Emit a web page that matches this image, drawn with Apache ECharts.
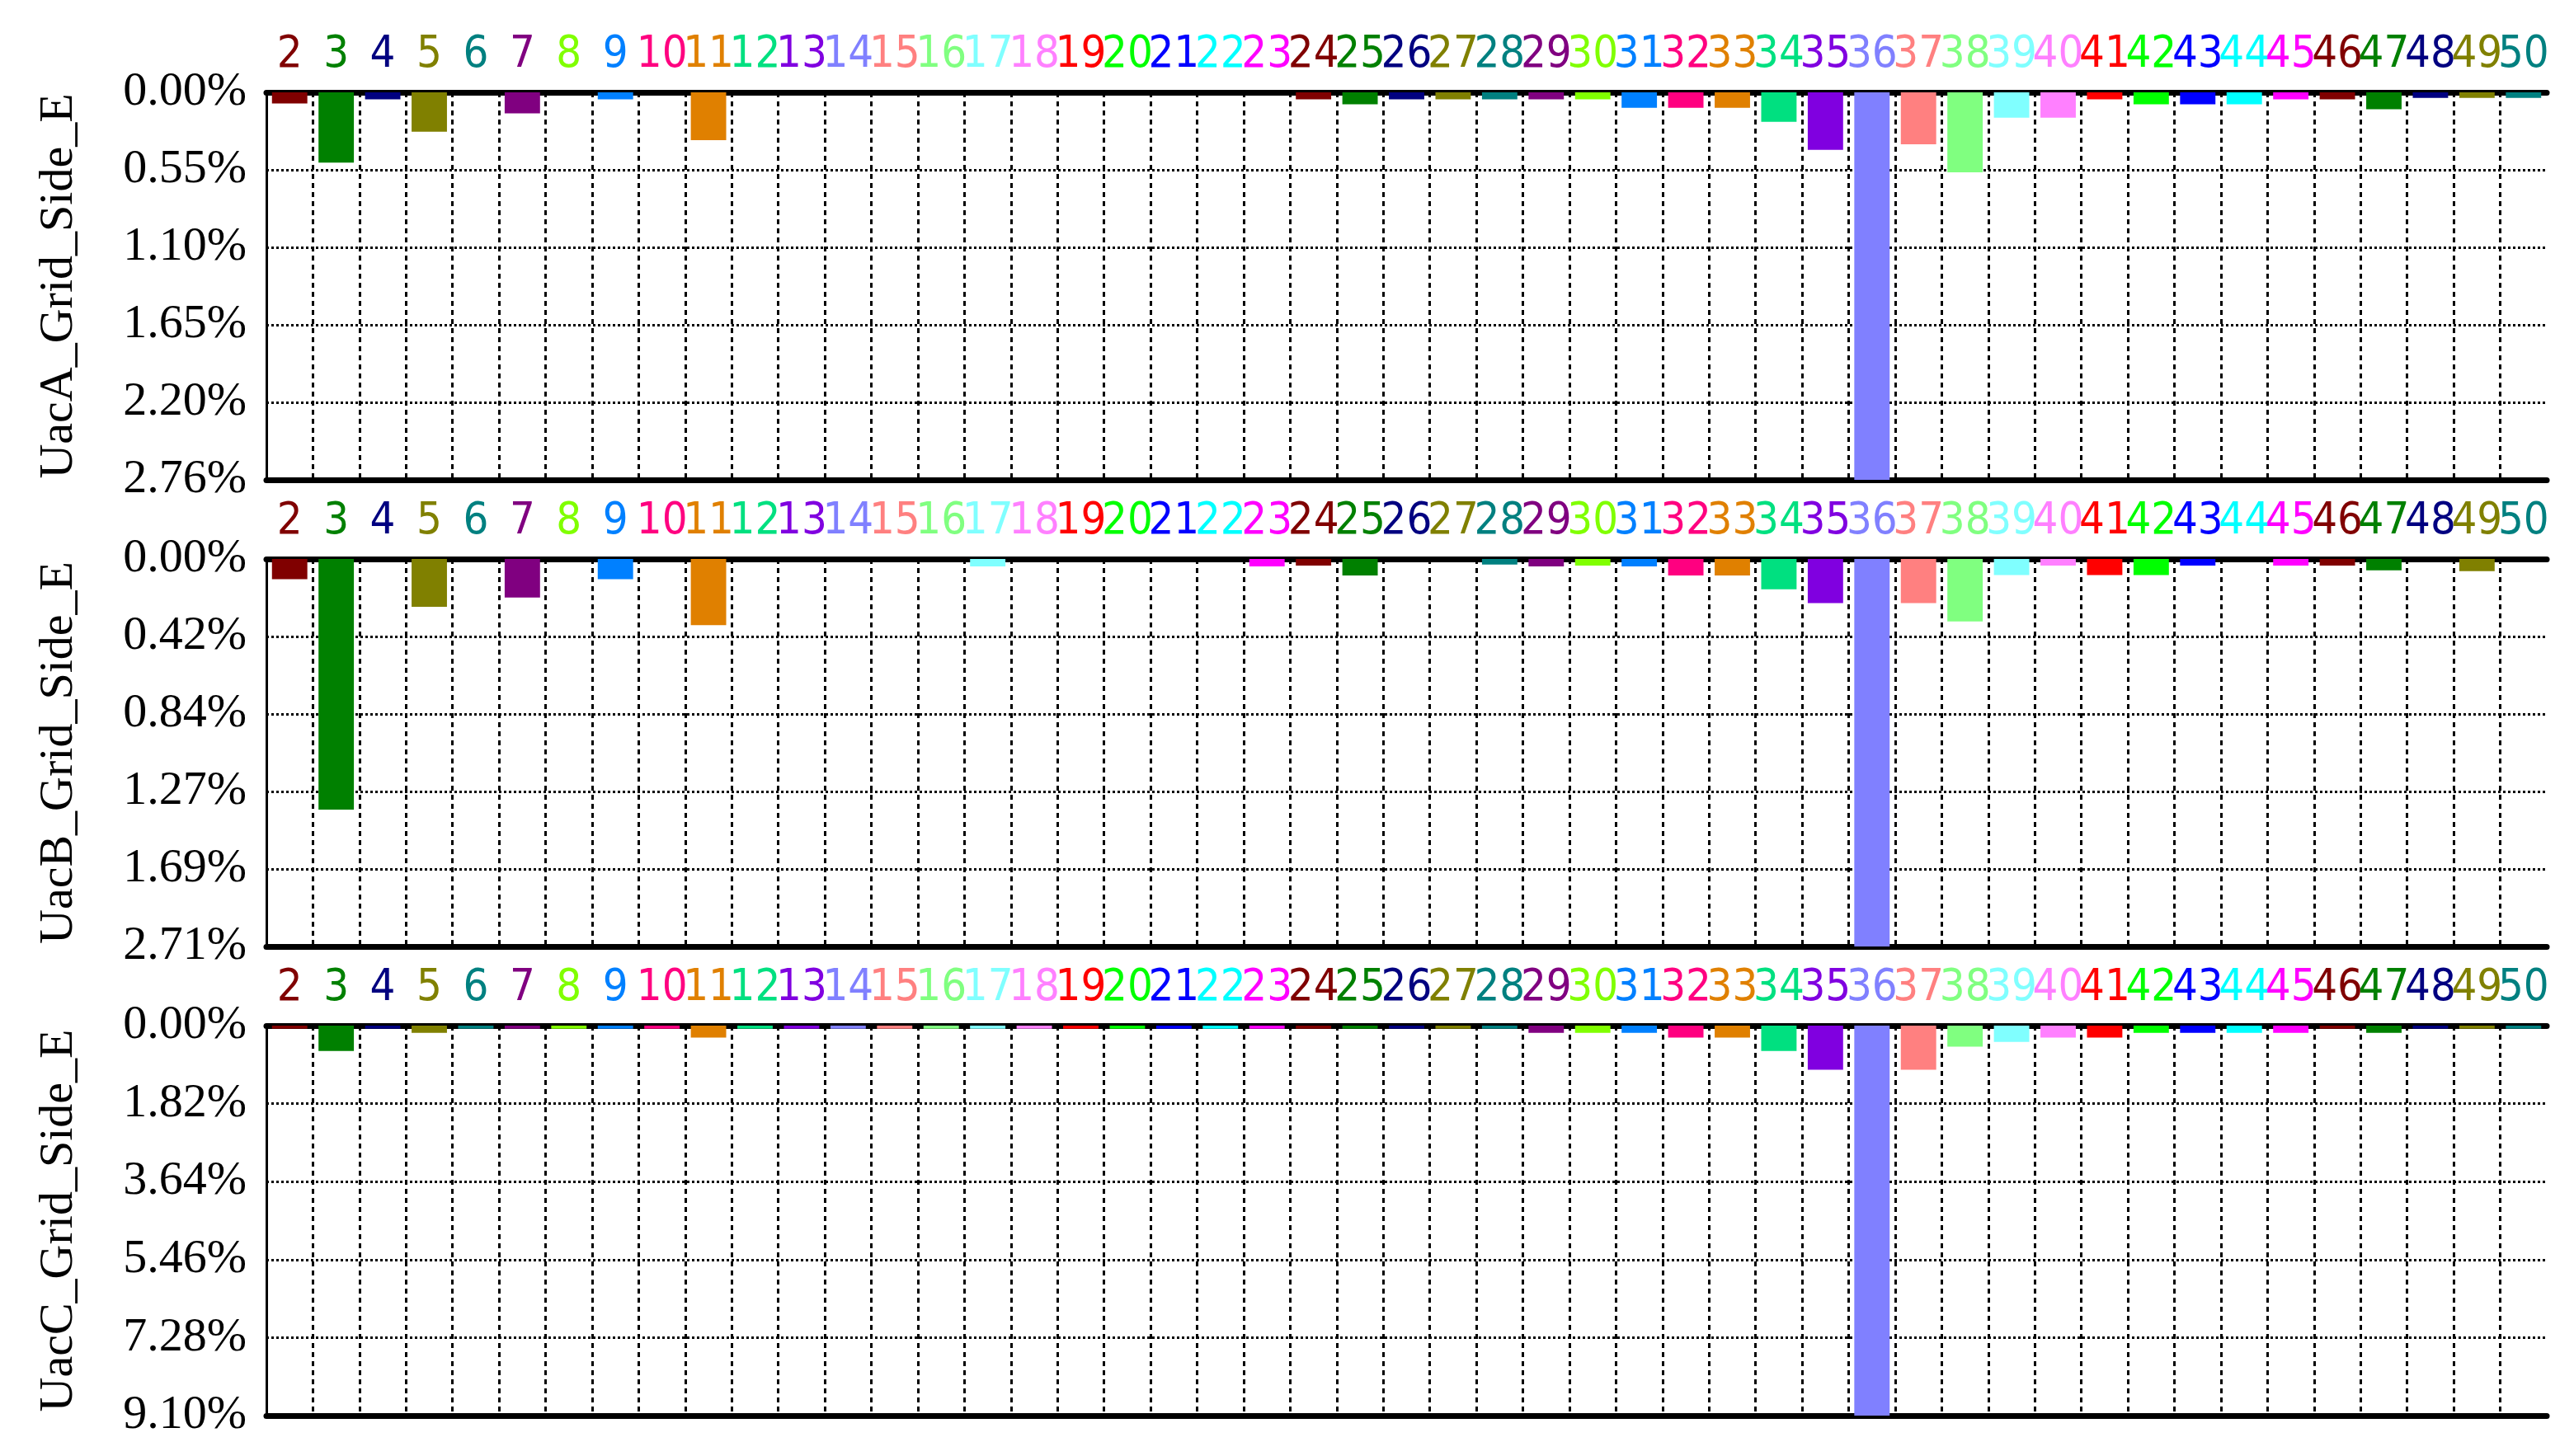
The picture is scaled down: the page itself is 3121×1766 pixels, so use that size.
<!DOCTYPE html>
<html>
<head>
<meta charset="utf-8">
<script src="https://cdn.jsdelivr.net/npm/echarts@6/dist/echarts.min.js"></script>
<style>
    html, body { margin: 0; padding: 0; background: #fff; }
    #main { width: 3121px; height: 1766px; }
</style>
</head>
<body>
<div id="main"></div>
<script>
// harmonic orders shown on top of every panel
var harmonics = ['2', '3', '4', '5', '6', '7', '8', '9', '10', '11', '12', '13', '14', '15', '16', '17', '18', '19', '20', '21',
    '22', '23', '24', '25', '26', '27', '28', '29', '30', '31', '32', '33', '34', '35', '36', '37', '38', '39', '40',
    '41', '42', '43', '44', '45', '46', '47', '48', '49', '50'];

// harmonic content in %, one value per harmonic order (36 runs off the scale)
var uacA = [0.08, 0.50, 0.05, 0.28, 0, 0.15, 0, 0.05, 0, 0.34, 0, 0, 0, 0, 0, 0, 0, 0, 0, 0,
    0, 0, 0.05, 0.085, 0.05, 0.05, 0.05, 0.05, 0.05, 0.11, 0.11, 0.11, 0.21, 0.41, 10.0, 0.37, 0.57, 0.18, 0.18,
    0.05, 0.085, 0.085, 0.085, 0.05, 0.05, 0.12, 0.04, 0.04, 0.04];
var uacB = [0.11, 1.365, 0, 0.26, 0, 0.21, 0, 0.11, 0, 0.36, 0, 0, 0, 0, 0, 0.04, 0, 0, 0, 0,
    0, 0.04, 0.036, 0.09, 0, 0, 0.03, 0.04, 0.036, 0.04, 0.09, 0.09, 0.165, 0.24, 10.0, 0.24, 0.34, 0.088, 0.036,
    0.088, 0.088, 0.036, 0, 0.036, 0.036, 0.062, 0, 0.066, 0];
var uacC = [0.07, 0.59, 0.07, 0.17, 0.07, 0.07, 0.07, 0.07, 0.07, 0.28, 0.07, 0.07, 0.07, 0.07, 0.07, 0.07, 0.07, 0.07, 0.07, 0.07,
    0.07, 0.07, 0.07, 0.07, 0.07, 0.07, 0.07, 0.17, 0.17, 0.17, 0.28, 0.28, 0.59, 1.03, 10.0, 1.03, 0.49, 0.38, 0.28,
    0.28, 0.17, 0.17, 0.17, 0.17, 0.07, 0.17, 0.07, 0.07, 0.07];

// tick labels as printed (last one of B is printed as 2.71%)
var ticksA = ['0.00%', '0.55%', '1.10%', '1.65%', '2.20%', '2.76%'];
var ticksB = ['0.00%', '0.42%', '0.84%', '1.27%', '1.69%', '2.71%'];
var ticksC = ['0.00%', '1.82%', '3.64%', '5.46%', '7.28%', '9.10%'];
var maxA = 2.76;
var maxB = 2.11;
var maxC = 9.10;

var panelNames = ['UacA_Grid_Side_E', 'UacB_Grid_Side_E', 'UacC_Grid_Side_E'];

var palette = ['#800000', '#008000', '#000080', '#808000', '#008080', '#800080', '#80FF00', '#0080FF',
    '#FF0080', '#E08000', '#00E080', '#8000E0', '#8080FF', '#FF8080', '#80FF80', '#80FFFF',
    '#FF80FF', '#FF0000', '#00FF00', '#0000FF', '#00FFFF', '#FF00FF'];

var chart = echarts.init(document.getElementById('main'), null, { renderer: 'canvas' });

var panels = [
    { name: panelNames[0], data: uacA, ticks: ticksA, max: maxA, top: 112, height: 470 },
    { name: panelNames[1], data: uacB, ticks: ticksB, max: maxB, top: 678, height: 470 },
    { name: panelNames[2], data: uacC, ticks: ticksC, max: maxC, top: 1244, height: 473 }
];

var grids = [], topAxes = [], bottomAxes = [], yAxes = [], series = [];

panels.forEach(function (p, i) {
    grids.push({ left: 323, right: 33, top: p.top, height: p.height });

    topAxes.push({
        type: 'category',
        gridIndex: i,
        data: harmonics,
        position: 'top',
        boundaryGap: true,
        axisLine: { onZero: false, lineStyle: { color: '#000', width: 7 } },
        axisTick: { show: false },
        axisLabel: {
            interval: 0,
            margin: 18,
            fontFamily: '"DejaVu Sans Condensed", "DejaVu Sans", sans-serif',
            fontSize: 54,
            color: function (value, index) {
                return palette[harmonics.indexOf(value) % palette.length];
            }
        },
        splitLine: {
            show: true,
            showMinLine: false,
            showMaxLine: false,
            lineStyle: { color: '#000', width: 3, type: [6, 5] }
        }
    });

    bottomAxes.push({
        type: 'category',
        gridIndex: i,
        data: harmonics,
        position: 'bottom',
        axisLine: { onZero: false, lineStyle: { color: '#000', width: 7 } },
        axisTick: { show: false },
        axisLabel: { show: false },
        splitLine: { show: false }
    });

    var step = p.max / 5;
    yAxes.push({
        type: 'value',
        gridIndex: i,
        inverse: true,
        min: 0,
        max: p.max,
        interval: step,
        name: p.name,
        nameLocation: 'middle',
        nameGap: 222,
        nameTextStyle: { fontFamily: '"Liberation Serif", serif', fontSize: 58, color: '#000' },
        axisLine: { show: true, lineStyle: { color: '#000', width: 3 } },
        axisTick: { show: false },
        axisLabel: {
            margin: 24,
            fontFamily: '"Liberation Serif", serif',
            fontSize: 58,
            color: '#000',
            formatter: function (v) {
                return p.ticks[Math.round(v / step)];
            }
        },
        splitLine: {
            show: true,
            showMinLine: false,
            showMaxLine: false,
            lineStyle: { color: '#000', width: 3, type: [3, 3] }
        }
    });

    series.push({
        type: 'bar',
        xAxisIndex: i,
        yAxisIndex: i,
        data: p.data,
        barWidth: '76%',
        clip: true,
        itemStyle: {
            color: function (params) {
                return palette[params.dataIndex % palette.length];
            }
        }
    });
});

chart.setOption({
    backgroundColor: '#fff',
    animation: false,
    grid: grids,
    xAxis: topAxes.concat(bottomAxes),
    yAxis: yAxes,
    series: series
});
</script>
</body>
</html>
